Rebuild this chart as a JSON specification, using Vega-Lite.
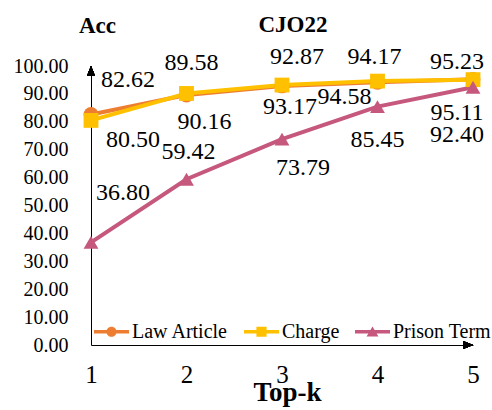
{
  "$schema": "https://vega.github.io/schema/vega-lite/v6.json",
  "autosize": "none",
  "width": 382,
  "height": 279,
  "padding": {"left": 91, "top": 66, "right": 19, "bottom": 65},
  "config": {
    "view": {"stroke": null},
    "font": "Liberation Serif, Times New Roman, serif",
    "text": {"font": "Liberation Serif, Times New Roman, serif", "fontSize": 24, "color": "black", "baseline": "middle"}
  },
  "title": {"text": "CJO22", "fontSize": 23, "fontWeight": "bold", "font": "Liberation Serif, Times New Roman, serif", "anchor": "middle", "frame": "group", "dx": 11, "baseline": "alphabetic", "offset": -41, "color": "black"},
  "data": {"values": [
    {"k": 1, "series": "Law Article", "acc": 82.62},
    {"k": 2, "series": "Law Article", "acc": 89.58},
    {"k": 3, "series": "Law Article", "acc": 92.87},
    {"k": 4, "series": "Law Article", "acc": 94.17},
    {"k": 5, "series": "Law Article", "acc": 95.23},
    {"k": 1, "series": "Charge", "acc": 80.50},
    {"k": 2, "series": "Charge", "acc": 90.16},
    {"k": 3, "series": "Charge", "acc": 93.17},
    {"k": 4, "series": "Charge", "acc": 94.58},
    {"k": 5, "series": "Charge", "acc": 95.11},
    {"k": 1, "series": "Prison Term", "acc": 36.80},
    {"k": 2, "series": "Prison Term", "acc": 59.42},
    {"k": 3, "series": "Prison Term", "acc": 73.79},
    {"k": 4, "series": "Prison Term", "acc": 85.45},
    {"k": 5, "series": "Prison Term", "acc": 92.40}
  ]},
  "encoding": {
    "x": {"field": "k", "type": "quantitative", "scale": {"domain": [1, 5], "nice": false, "zero": false},
      "axis": {"values": [1, 2, 3, 4, 5], "format": "d", "grid": false, "ticks": false, "tickSize": 0, "domainColor": "black", "domainWidth": 1,
        "labelFont": "Liberation Serif, Times New Roman, serif", "labelFontSize": 25, "labelColor": "black", "labelBaseline": "alphabetic", "labelPadding": 37, "labelFlush": false,
        "title": "Top-k", "titleFont": "Liberation Serif, Times New Roman, serif", "titleFontSize": 27, "titleFontWeight": "bold", "titleColor": "black", "titleBaseline": "alphabetic", "titleX": 196, "titleY": 55}},
    "y": {"field": "acc", "type": "quantitative", "scale": {"domain": [0, 100], "nice": false},
      "axis": {"values": [0, 10, 20, 30, 40, 50, 60, 70, 80, 90, 100], "format": ".2f", "grid": false, "ticks": false, "tickSize": 0, "domainColor": "black", "domainWidth": 1,
        "labelFont": "Liberation Serif, Times New Roman, serif", "labelFontSize": 20, "labelColor": "black", "labelPadding": 23,
        "title": "Acc", "titleFont": "Liberation Serif, Times New Roman, serif", "titleFontSize": 23, "titleFontWeight": "bold", "titleColor": "black", "titleAngle": 0, "titleAlign": "center", "titleBaseline": "alphabetic", "titleX": 6, "titleY": -34}}
  },
  "resolve": {"scale": {"color": "independent", "shape": "independent"}},
  "layer": [
    {"mark": {"type": "line", "strokeWidth": 4},
      "encoding": {"color": {"field": "series", "type": "nominal", "scale": {"domain": ["Law Article", "Charge", "Prison Term"], "range": ["#ED7D31", "#FFC000", "#C5587C"]}, "legend": null},
        "order": {"field": "k"}}},
    {"mark": {"type": "point", "filled": true, "opacity": 1, "size": 220},
      "encoding": {"color": {"field": "series", "type": "nominal", "scale": {"domain": ["Law Article", "Charge", "Prison Term"], "range": ["#ED7D31", "#FFC000", "#C5587C"]}, "legend": null},
        "shape": {"field": "series", "type": "nominal", "scale": {"domain": ["Law Article", "Charge", "Prison Term"], "range": ["circle", "square", "triangle-up"]}, "legend": null}}},
    {"transform": [{"filter": "false"}],
      "mark": {"type": "point", "filled": true, "opacity": 1},
      "encoding": {
        "color": {"field": "series", "type": "nominal", "scale": {"domain": ["Law Article", "Charge", "Prison Term"], "range": ["#ED7D31", "#FFC000", "#C5587C"]},
          "legend": {"title": null, "orient": "none", "legendX": 2, "legendY": 247, "direction": "horizontal", "symbolSize": 1225, "symbolOpacity": 1, "labelFont": "Liberation Serif, Times New Roman, serif", "labelFontSize": 20, "labelColor": "black", "labelOffset": 2, "columnPadding": 12, "padding": 0}},
        "shape": {"field": "series", "type": "nominal", "scale": {"domain": ["Law Article", "Charge", "Prison Term"], "range": [
          "M-1,-0.1H1V0.1H-1Z M0.29,0A0.29,0.29,0,1,1,-0.29,0A0.29,0.29,0,1,1,0.29,0Z",
          "M-1,-0.1H1V0.1H-1Z M-0.29,-0.29H0.29V0.29H-0.29Z",
          "M-1,-0.1H1V0.1H-1Z M0,-0.3L0.34,0.27H-0.34Z"]},
          "legend": {"title": null, "orient": "none", "legendX": 2, "legendY": 247, "direction": "horizontal", "symbolSize": 1225, "symbolOpacity": 1, "labelFont": "Liberation Serif, Times New Roman, serif", "labelFontSize": 20, "labelColor": "black", "labelOffset": 2, "columnPadding": 12, "padding": 0}}
      }},
    {"mark": {"type": "point", "filled": true, "opacity": 1, "color": "black", "shape": "M0,0L0.4,1L-0.4,1Z", "size": 400},
      "encoding": {"x": {"datum": 1, "type": "quantitative"}, "y": {"datum": 100, "type": "quantitative"}}},
    {"mark": {"type": "point", "filled": true, "opacity": 1, "color": "black", "shape": "M0,0L-1,-0.4L-1,0.4Z", "size": 400},
      "encoding": {"x": {"datum": 5, "type": "quantitative"}, "y": {"datum": 0, "type": "quantitative"}}},
    {"transform": [{"filter": "datum.series==='Law Article'&&datum.k===1"}], "mark": {"type": "text", "dx": 37, "dy": -34}, "encoding": {"text": {"field": "acc", "format": ".2f"}}},
    {"transform": [{"filter": "datum.series==='Law Article'&&datum.k===2"}], "mark": {"type": "text", "dx": 5, "dy": -32}, "encoding": {"text": {"field": "acc", "format": ".2f"}}},
    {"transform": [{"filter": "datum.series==='Law Article'&&datum.k===3"}], "mark": {"type": "text", "dx": 15, "dy": -29}, "encoding": {"text": {"field": "acc", "format": ".2f"}}},
    {"transform": [{"filter": "datum.series==='Law Article'&&datum.k===4"}], "mark": {"type": "text", "dx": -3, "dy": -25}, "encoding": {"text": {"field": "acc", "format": ".2f"}}},
    {"transform": [{"filter": "datum.series==='Law Article'&&datum.k===5"}], "mark": {"type": "text", "dx": -16, "dy": -17}, "encoding": {"text": {"field": "acc", "format": ".2f"}}},
    {"transform": [{"filter": "datum.series==='Charge'&&datum.k===1"}], "mark": {"type": "text", "dx": 42, "dy": 20}, "encoding": {"text": {"field": "acc", "format": ".2f"}}},
    {"transform": [{"filter": "datum.series==='Charge'&&datum.k===2"}], "mark": {"type": "text", "dx": 18, "dy": 29}, "encoding": {"text": {"field": "acc", "format": ".2f"}}},
    {"transform": [{"filter": "datum.series==='Charge'&&datum.k===3"}], "mark": {"type": "text", "dx": 8, "dy": 22}, "encoding": {"text": {"field": "acc", "format": ".2f"}}},
    {"transform": [{"filter": "datum.series==='Charge'&&datum.k===4"}], "mark": {"type": "text", "dx": -33, "dy": 16}, "encoding": {"text": {"field": "acc", "format": ".2f"}}},
    {"transform": [{"filter": "datum.series==='Charge'&&datum.k===5"}], "mark": {"type": "text", "dx": -16, "dy": 33}, "encoding": {"text": {"field": "acc", "format": ".2f"}}},
    {"transform": [{"filter": "datum.series==='Prison Term'&&datum.k===1"}], "mark": {"type": "text", "dx": 32, "dy": -49}, "encoding": {"text": {"field": "acc", "format": ".2f"}}},
    {"transform": [{"filter": "datum.series==='Prison Term'&&datum.k===2"}], "mark": {"type": "text", "dx": 2, "dy": -27}, "encoding": {"text": {"field": "acc", "format": ".2f"}}},
    {"transform": [{"filter": "datum.series==='Prison Term'&&datum.k===3"}], "mark": {"type": "text", "dx": 21, "dy": 29}, "encoding": {"text": {"field": "acc", "format": ".2f"}}},
    {"transform": [{"filter": "datum.series==='Prison Term'&&datum.k===4"}], "mark": {"type": "text", "dx": 0, "dy": 33}, "encoding": {"text": {"field": "acc", "format": ".2f"}}},
    {"transform": [{"filter": "datum.series==='Prison Term'&&datum.k===5"}], "mark": {"type": "text", "dx": -16, "dy": 48}, "encoding": {"text": {"field": "acc", "format": ".2f"}}}
  ]
}
